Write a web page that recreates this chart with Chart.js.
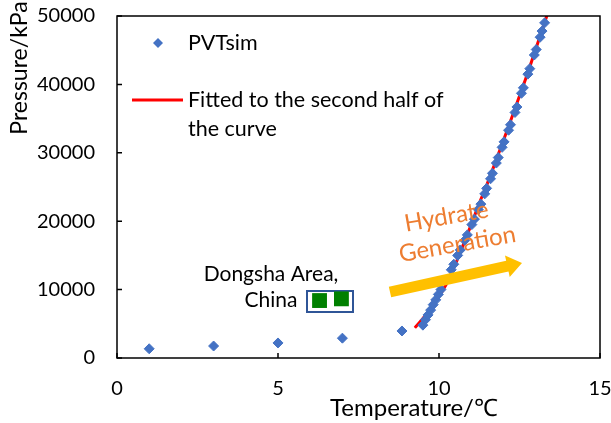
<!DOCTYPE html>
<html>
<head>
<meta charset="utf-8">
<script src="https://cdn.jsdelivr.net/npm/chart.js@4"></script>
<style>
  html, body { margin: 0; padding: 0; background: #fff; }
  #wrap { width: 611px; height: 423px; }
</style>
</head>
<body>
<div id="wrap"><canvas id="chart" width="611" height="423"></canvas></div>
<script>
// PVTsim hydrate equilibrium points (temperature in C, pressure in kPa)
const pvtT = [1, 3, 5, 7, 8.85,
  9.50, 9.58, 9.66, 9.74, 9.82, 9.90, 9.98, 10.06,
  10.38, 10.46, 10.58, 10.66, 10.80, 10.88, 11.02, 11.10,
  11.22, 11.30, 11.42, 11.48, 11.60, 11.66, 11.78, 11.84,
  11.96, 12.02, 12.16, 12.22, 12.36, 12.42, 12.56, 12.62,
  12.76, 12.82, 12.96, 13.02, 13.14, 13.20, 13.28];
const pvtP = [1350, 1750, 2200, 2900, 3950,
  4800, 5600, 6300, 7000, 7800, 8500, 9300, 10000,
  12900, 13700, 15000, 15800, 17200, 18000, 19500, 20300,
  21700, 22500, 24000, 24800, 26200, 27000, 28500, 29300,
  30800, 31600, 33300, 34100, 35900, 36700, 38700, 39500,
  41500, 42300, 44300, 45100, 46900, 47800, 49000];

// fitted curve (second half)
const fitT = [9.25, 9.5, 9.75, 10.0, 10.25, 10.5, 10.75, 11.0, 11.25,
  11.5, 11.75, 12.0, 12.25, 12.5, 12.75, 13.0, 13.25, 13.38];
const fitP = [4400, 5800, 7300, 9000, 11000, 13600, 16500, 19500, 22600,
  25500, 28600, 31800, 35000, 38300, 41600, 45100, 48600, 50500];

// Dongsha Area, China field conditions
const dongT = [6.29, 6.97];
const dongP = [8400, 8650];

const xTicks = [0, 5, 10, 15];
const yTicks = [0, 10000, 20000, 30000, 40000, 50000];

const FONT = 'Lato, "Open Sans", sans-serif';

function toPts(xs, ys) {
    return xs.map((x, i) => ({ x: x, y: ys[i] }));
}

// no extra room for overhanging tick labels
function noOverhang(s) {
    s.paddingTop = 0; s.paddingBottom = 0;
    s.paddingLeft = 0; s.paddingRight = 0;
}

// draws the frame, inside ticks, legend, notes and axis titles
const decorPlugin = {
    id: 'decor',
    beforeDatasetsDraw(chart) {
        const ctx = chart.ctx;
        // box behind the Dongsha markers
        ctx.save();
        ctx.fillStyle = '#fff';
        ctx.strokeStyle = '#2F5597';
        ctx.lineWidth = 2;
        ctx.fillRect(307, 291, 46, 21);
        ctx.strokeRect(307, 291, 46, 21);
        ctx.restore();
    },
    afterDatasetsDraw(chart) {
        const ctx = chart.ctx;
        const a = chart.chartArea;
        const xs = chart.scales.x, ys = chart.scales.y;
        ctx.save();

        // frame
        ctx.strokeStyle = '#000';
        ctx.lineWidth = 1.5;
        ctx.strokeRect(a.left, a.top, a.right - a.left, a.bottom - a.top);

        // inside ticks
        ctx.beginPath();
        yTicks.forEach(v => {
            const py = ys.getPixelForValue(v);
            ctx.moveTo(a.left, py); ctx.lineTo(a.left + 5, py);
        });
        xTicks.forEach(v => {
            const px = xs.getPixelForValue(v);
            ctx.moveTo(px, a.bottom); ctx.lineTo(px, a.bottom - 5);
        });
        ctx.stroke();

        // yellow arrow
        const x0 = 390, y0 = 292, x1 = 522, y1 = 263;
        const ang = Math.atan2(y1 - y0, x1 - x0);
        const len = Math.hypot(x1 - x0, y1 - y0);
        ctx.save();
        ctx.translate(x0, y0);
        ctx.rotate(ang);
        ctx.fillStyle = '#FFC000';
        ctx.beginPath();
        ctx.moveTo(0, -5.5);
        ctx.lineTo(len - 15, -5.5);
        ctx.lineTo(len - 15, -11);
        ctx.lineTo(len, 0);
        ctx.lineTo(len - 15, 11);
        ctx.lineTo(len - 15, 5.5);
        ctx.lineTo(0, 5.5);
        ctx.closePath();
        ctx.fill();
        ctx.restore();

        // Hydrate Generation note
        ctx.save();
        ctx.translate(452, 231);
        ctx.rotate(-10 * Math.PI / 180);
        ctx.fillStyle = '#ED7D31';
        ctx.font = '24px ' + FONT;
        ctx.textAlign = 'center';
        ctx.textBaseline = 'middle';
        ctx.fillText('Hydrate', -3, -15);
        ctx.fillText('Generation', 3, 14);
        ctx.restore();

        // Dongsha label
        ctx.fillStyle = '#000';
        ctx.font = '21px ' + FONT;
        ctx.textAlign = 'center';
        ctx.textBaseline = 'middle';
        ctx.fillText('Dongsha Area,', 271, 274);
        ctx.fillText('China', 271, 300);

        // legend
        ctx.fillStyle = '#4472C4';
        ctx.beginPath();
        ctx.moveTo(158, 38); ctx.lineTo(163, 43); ctx.lineTo(158, 48); ctx.lineTo(153, 43);
        ctx.closePath();
        ctx.fill();
        ctx.strokeStyle = '#FF0000';
        ctx.lineWidth = 3;
        ctx.beginPath();
        ctx.moveTo(132, 100); ctx.lineTo(183, 100);
        ctx.stroke();
        ctx.fillStyle = '#000';
        ctx.font = '21.5px ' + FONT;
        ctx.textAlign = 'left';
        ctx.fillText('PVTsim', 188, 43);
        ctx.fillText('Fitted to the second half of', 188, 100);
        ctx.fillText('the curve', 188, 129);

        // axis titles
        ctx.textAlign = 'center';
        ctx.font = '24px ' + FONT;
        ctx.fillText('Temperature/\u2103', 414, 408);
        ctx.font = '23px ' + FONT;
        ctx.save();
        ctx.translate(20, 68);
        ctx.rotate(-Math.PI / 2);
        ctx.fillText('Pressure/kPa', 0, 0);
        ctx.restore();

        ctx.restore();
    }
};

document.addEventListener("DOMContentLoaded", function() {
    const ctx = document.getElementById('chart').getContext('2d');
    new Chart(ctx, {
        type: 'scatter',
        data: {
            datasets: [
                {
                    label: 'PVTsim',
                    data: toPts(pvtT, pvtP),
                    pointStyle: 'rectRot',
                    pointRadius: 5,
                    backgroundColor: '#4472C4',
                    borderColor: '#4472C4',
                    borderWidth: 1,
                    showLine: false
                },
                {
                    label: 'Dongsha Area, China',
                    data: toPts(dongT, dongP),
                    pointStyle: 'rect',
                    pointRadius: 10.5,
                    backgroundColor: '#008000',
                    borderColor: '#008000',
                    borderWidth: 0,
                    showLine: false
                },
                {
                    label: 'Fitted to the second half of the curve',
                    data: toPts(fitT, fitP),
                    showLine: true,
                    borderColor: '#FF0000',
                    borderWidth: 3,
                    pointRadius: 0,
                    cubicInterpolationMode: 'monotone',
                    fill: false
                }
            ]
        },
        options: {
            responsive: false,
            animation: false,
            layout: { padding: { left: 0, right: 11, top: 16, bottom: 0 } },
            plugins: {
                legend: { display: false },
                tooltip: { enabled: false }
            },
            scales: {
                x: {
                    type: 'linear',
                    min: 0, max: 15,
                    afterFit: s => { s.height = 65; noOverhang(s); },
                    afterBuildTicks: s => { s.ticks = xTicks.map(v => ({ value: v })); },
                    grid: { display: false, drawTicks: false },
                    border: { display: false },
                    ticks: { color: '#000', padding: 19, font: { family: FONT, size: 20 },
                             callback: v => String(v) }
                },
                y: {
                    type: 'linear',
                    min: 0, max: 50000,
                    afterFit: s => { s.width = 117; noOverhang(s); },
                    afterBuildTicks: s => { s.ticks = yTicks.map(v => ({ value: v })); },
                    grid: { display: false, drawTicks: false },
                    border: { display: false },
                    ticks: { color: '#000', padding: 22, font: { family: FONT, size: 20 },
                             callback: v => String(v) }
                }
            }
        },
        plugins: [decorPlugin]
    });
});
</script>
</body>
</html>
